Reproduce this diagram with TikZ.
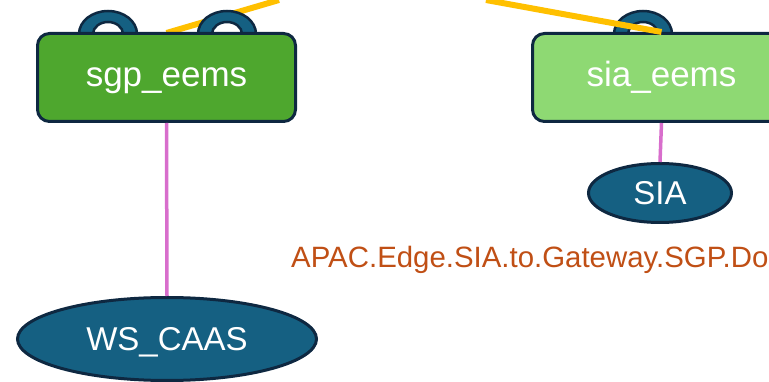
\documentclass[tikz,border=0pt]{standalone}
\usepackage{fontspec}
\setmainfont{Liberation Sans}
\usetikzlibrary{shapes.geometric}
\definecolor{eemsdark}{HTML}{4EA72E}
\definecolor{eemslight}{HTML}{8ED973}
\definecolor{rim}{HTML}{0E2841}
\definecolor{hostblue}{HTML}{156082}
\definecolor{trunk}{HTML}{FFC000}
\definecolor{access}{HTML}{D86ECC}
\definecolor{pathtext}{HTML}{C04F15}
\begin{document}
\begin{tikzpicture}[x=1pt,y=1pt,
    eemsbox/.style={draw=rim,line width=3pt,rounded corners=12pt,
      minimum width=258pt,minimum height=88pt,inner sep=0pt,
      text height=19pt,text depth=0pt,
      text=white,font=\fontsize{35}{40}\selectfont},
    hostell/.style={ellipse,draw=rim,line width=3pt,fill=hostblue,inner sep=0pt,
      text height=24pt,text depth=0pt,
      text=white,font=\fontsize{33}{38}\selectfont},
    handle/.style={fill=hostblue,draw=rim,line width=2.5pt},
    trunkline/.style={draw=trunk,line width=6pt},
    accessline/.style={draw=access,line width=3.5pt}]
  \clip (0,0) rectangle (769,-382);
  \useasboundingbox (0,0) rectangle (769,-382);
  \coordinate (sgptop) at (166.5,-33);
  \coordinate (up1) at (279,0);
  \coordinate (up2) at (486,0);
  % left trunk runs behind the handles
  \draw[trunkline] (sgptop) -- (up1);
  % handles on the top of the boxes
  \foreach \hx in {108,227,643}
    \filldraw[handle] (\hx-29,-34) arc[start angle=180,end angle=0,x radius=29,y radius=23]
      -- ++(-14,0) arc[start angle=0,end angle=180,x radius=15,y radius=12] -- cycle;
  \node[eemsbox,fill=eemsdark] (sgp) at (166.5,-77.5) {sgp\_eems};
  \node[eemsbox,fill=eemslight] (sia) at (661.5,-77.5) {sia\_eems};
  \node[hostell,minimum width=299pt,minimum height=83pt] (caas) at (167,-339) {WS\_CAAS};
  \node[hostell,minimum width=143pt,minimum height=59pt] (siahost) at (660,-193) {SIA};
  % links
  \draw[trunkline] (sia.north) -- (up2);
  \draw[accessline] (sgp.south) -- (caas.north);
  \draw[accessline] (sia.south) -- (siahost.north);
  \node[anchor=base west,inner sep=0pt,text=pathtext,font=\fontsize{29.4}{34}\selectfont]
    (tunnel) at (291,-268) {APAC.Edge.SIA.to.Gateway.SGP.Do};
\end{tikzpicture}
\end{document}
